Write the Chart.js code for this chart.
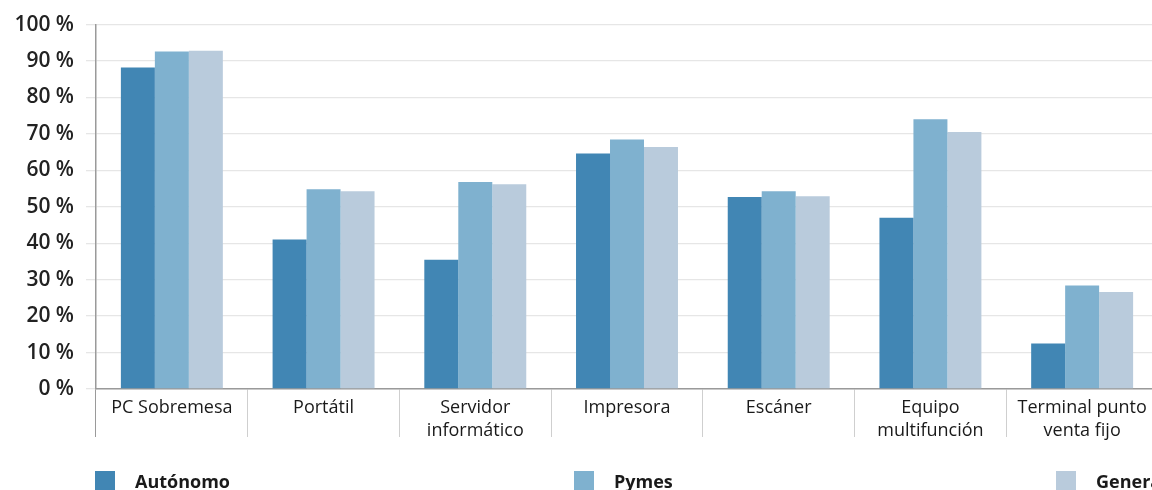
<!DOCTYPE html>
<html>
<head>
<meta charset="utf-8">
<script src="https://cdn.jsdelivr.net/npm/chart.js@4.4.1/dist/chart.umd.min.js"></script>
<style>
  html, body { margin: 0; padding: 0; background: #fff; overflow: hidden; width: 1152px; height: 490px; }
  #wrap { position: absolute; left: 0; top: 0; width: 1160px; height: 490px; }
  #legend { position: absolute; left: 0; top: 0; width: 1200px; height: 490px; pointer-events: none;
            font-family: "Open Sans", sans-serif; font-weight: 700; font-size: 18px; color: #1a1a1a; }
  .item { position: absolute; top: 471px; height: 20px; display: flex; align-items: center; white-space: nowrap; }
  .sw { width: 20px; height: 20px; margin-right: 20px; flex: none; }
</style>
</head>
<body>
<div id="wrap"><canvas id="c"></canvas></div>
<div id="legend"></div>
<script>
// Equipment categories (multi-line labels as arrays)
const categories = [
  'PC Sobremesa',
  'Portátil',
  ['Servidor', 'informático'],
  'Impresora',
  'Escáner',
  ['Equipo', 'multifunción'],
  ['Terminal punto', 'venta fijo']
];

// Share of companies with each equipment (%)
const seriesNames = ['Autónomo', 'Pymes', 'General'];
const autonomo = [88.2, 41.0, 35.5, 64.6, 52.7, 47.0, 12.5];
const pymes    = [92.6, 54.8, 56.8, 68.5, 54.3, 74.0, 28.4];
const general  = [92.8, 54.3, 56.2, 66.4, 52.9, 70.5, 26.6];

// Y axis ticks
const yTicks = [0, 10, 20, 30, 40, 50, 60, 70, 80, 90, 100];

const colors = ['#4186b4', '#7fb1cf', '#b9cbdc'];
const legendLeft = [95, 574, 1056];

const seriesValues = [autonomo, pymes, general];

const datasets = seriesNames.map((name, i) => ({
  label: name,
  data: seriesValues[i],
  backgroundColor: colors[i],
  borderWidth: 0,
  categoryPercentage: 0.672,
  barPercentage: 1.0
}));

new Chart(document.getElementById('c'), {
  type: 'bar',
  data: { labels: categories, datasets },
  options: {
    responsive: true,
    maintainAspectRatio: false,
    devicePixelRatio: 1,
    animation: false,
    layout: { padding: { top: 23, bottom: 49, left: 0, right: 2 } },
    plugins: { legend: { display: false }, tooltip: { enabled: false } },
    scales: {
      x: {
        type: 'category',
        offset: true,
        afterFit: s => { s.height = 52; },
        grid: {
          offset: true,
          drawOnChartArea: false,
          drawTicks: true,
          tickLength: 48,
          lineWidth: 1,
          color: ctx => ctx.index === 0 ? '#9a9a9a' : '#cfcfcf'
        },
        border: { color: '#9a9a9a', width: 1.5 },
        ticks: {
          padding: -40,
          autoSkip: false,
          maxRotation: 0,
          color: '#1a1a1a',
          font: { family: 'Open Sans', size: 18, lineHeight: 1.25 }
        }
      },
      y: {
        min: 0,
        max: 100,
        afterFit: s => { s.width = 96; },
        afterBuildTicks: s => { s.ticks = yTicks.map(v => ({ value: v })); },
        grid: { color: '#e6e6e6', lineWidth: 1.3, tickLength: 10 },
        border: { color: '#9a9a9a', width: 1.5 },
        ticks: {
          padding: 12,
          color: '#222',
          font: { family: 'Open Sans', size: 21, weight: '600' },
          callback: v => v + ' %'
        }
      }
    }
  }
});

// Legend row
const legend = document.getElementById('legend');
seriesNames.forEach((name, i) => {
  const item = document.createElement('div');
  item.className = 'item';
  item.style.left = legendLeft[i] + 'px';
  const sw = document.createElement('span');
  sw.className = 'sw';
  sw.style.background = colors[i];
  const tx = document.createElement('span');
  tx.textContent = name;
  item.appendChild(sw);
  item.appendChild(tx);
  legend.appendChild(item);
});
</script>
</body>
</html>
